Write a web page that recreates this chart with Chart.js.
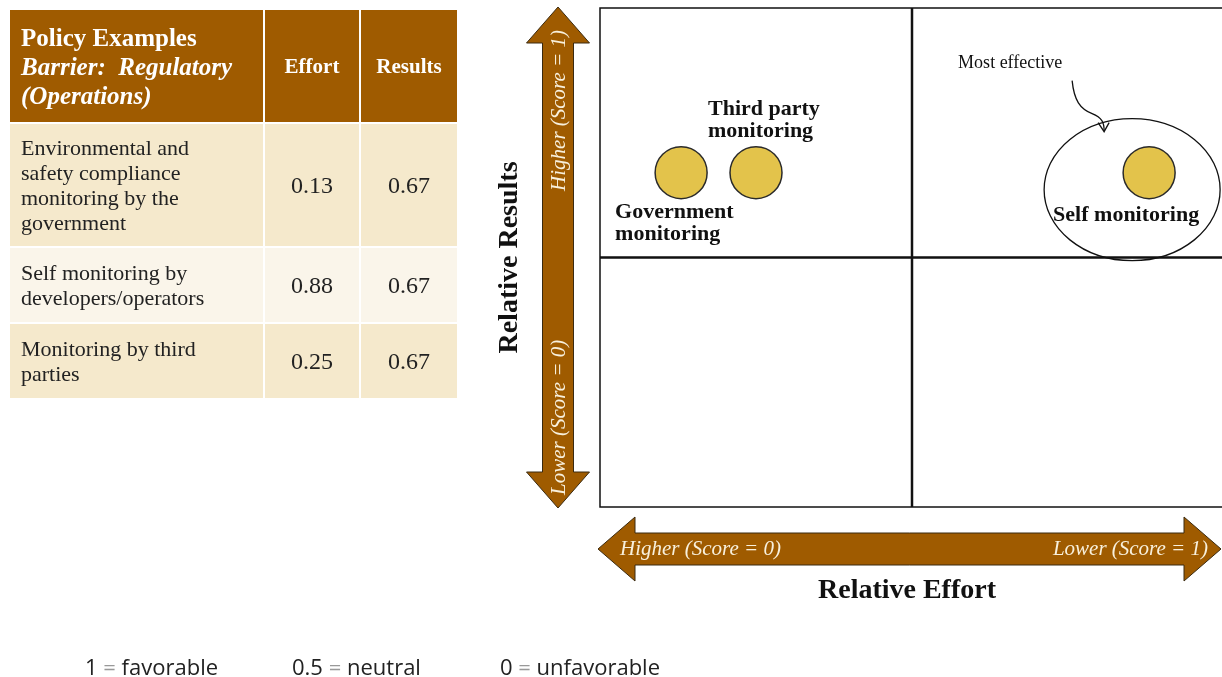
<!DOCTYPE html>
<html>
<head>
<meta charset="utf-8">
<title>Policy Examples - Regulatory (Operations)</title>
<script src="https://cdn.jsdelivr.net/npm/chart.js@4.4.1/dist/chart.umd.min.js"></script>
<style>
  html, body { margin: 0; padding: 0; background: #fff; overflow: hidden; }
  #wrap { position: absolute; left: 0; top: 0; width: 1232px; height: 677px; }
  #policy-table {
    position: absolute; left: 8px; top: 8px; width: 451px;
    border-collapse: collapse; font-family: 'Liberation Serif', serif; color: #222;
  }
  #policy-table td, #policy-table th { border: 2px solid #fff; padding: 0 10px; }
  #policy-table th { background: #9f5b00; color: #fff; font-weight: bold; font-size: 21px; }
  #policy-table th.title { text-align: left; font-size: 25px; line-height: 29px; height: 112px; padding-left: 11px; }
  #policy-table td { font-size: 22px; line-height: 25px; }
  #policy-table td.text { padding-left: 11px; padding-right: 34px; }
  #policy-table td.num { text-align: center; font-size: 24px; }
  #policy-table tr.odd td { background: #f5e9cc; }
  #policy-table tr.even td { background: #faf5ea; }
  #footer { position: absolute; top: 651px; left: 0; font-family: 'Open Sans', sans-serif; font-size: 22px; color: #222; }
  #footer span { position: absolute; white-space: nowrap; }
  #footer i { font-style: normal; color: #999; }
</style>
</head>
<body>
<div id="wrap"><canvas id="quadrant-chart"></canvas></div>
<table id="policy-table"></table>
<div id="footer"></div>

<script>
// policy scores (0 = unfavorable, 1 = favorable)
const policies = [
  'Environmental and safety compliance monitoring by the government',
  'Self monitoring by developers/operators',
  'Monitoring by third parties'
]
const effortScores = [0.13, 0.88, 0.25]
const resultScores = [0.67, 0.67, 0.67]
const pointLabels = [['Government', 'monitoring'], ['Self monitoring'], ['Third party', 'monitoring']]
const scoreKey = [['1', 'favorable'], ['0.5', 'neutral'], ['0', 'unfavorable']]

const brown = '#9f5b00'
const serif = "'Liberation Serif', serif"

// table on the left
const table = document.getElementById('policy-table')
let html = '<tr><th class="title">Policy Examples<br><i>Barrier:&nbsp; Regulatory<br>(Operations)</i></th>' +
  '<th style="width:74px">Effort</th><th style="width:76px">Results</th></tr>'
const rowHeights = [124, 76, 76]
for (let i = 0; i < policies.length; i++) {
  html += '<tr class="' + (i % 2 ? 'even' : 'odd') + '" style="height:' + rowHeights[i] + 'px">' +
    '<td class="text">' + policies[i] + '</td>' +
    '<td class="num">' + effortScores[i].toFixed(2) + '</td>' +
    '<td class="num">' + resultScores[i].toFixed(2) + '</td></tr>'
}
table.innerHTML = html

// score legend at the bottom
const footer = document.getElementById('footer')
const footerX = [85, 292, 500]
scoreKey.forEach((k, i) => {
  const s = document.createElement('span')
  s.style.left = footerX[i] + 'px'
  s.innerHTML = k[0] + ' <i>=</i> ' + k[1]
  footer.appendChild(s)
})

function doubleArrow(ctx, x1, y1, x2, y2, shaftW, headW, headL) {
  const L = Math.hypot(x2 - x1, y2 - y1)
  ctx.save()
  ctx.translate(x1, y1)
  ctx.rotate(Math.atan2(y2 - y1, x2 - x1))
  ctx.beginPath()
  ctx.moveTo(0, 0)
  ctx.lineTo(headL, -headW / 2)
  ctx.lineTo(headL, -shaftW / 2)
  ctx.lineTo(L - headL, -shaftW / 2)
  ctx.lineTo(L - headL, -headW / 2)
  ctx.lineTo(L, 0)
  ctx.lineTo(L - headL, headW / 2)
  ctx.lineTo(L - headL, shaftW / 2)
  ctx.lineTo(headL, shaftW / 2)
  ctx.lineTo(headL, headW / 2)
  ctx.closePath()
  ctx.fillStyle = brown
  ctx.fill()
  ctx.strokeStyle = '#3a2a10'
  ctx.lineWidth = 1
  ctx.stroke()
  ctx.restore()
}

// quadrant box and mid lines
const quadrants = {
  id: 'quadrants',
  beforeDatasetsDraw(chart) {
    const { ctx, chartArea: a, scales } = chart
    const mx = scales.x.getPixelForValue(0.5)
    const my = scales.y.getPixelForValue(0.5)
    ctx.save()
    ctx.strokeStyle = '#111'
    ctx.lineWidth = 1.5
    ctx.strokeRect(a.left, a.top, a.right - a.left, a.bottom - a.top)
    ctx.lineWidth = 2.5
    ctx.beginPath()
    ctx.moveTo(mx, a.top); ctx.lineTo(mx, a.bottom)
    ctx.moveTo(a.left, my); ctx.lineTo(a.right, my)
    ctx.stroke()
    ctx.restore()
  }
}

// axis arrows, titles and point annotations
const annotations = {
  id: 'annotations',
  afterDraw(chart) {
    const { ctx, chartArea: a } = chart
    const meta = chart.getDatasetMeta(0)
    ctx.save()

    // vertical arrow (results)
    const vx = a.left - 42
    doubleArrow(ctx, vx, a.top - 1, vx, a.bottom + 1, 31, 63, 36)
    ctx.fillStyle = '#f8f0dc'
    ctx.font = 'italic 21px ' + serif
    ctx.textBaseline = 'middle'
    ctx.save(); ctx.translate(vx + 1, a.top + 22); ctx.rotate(-Math.PI / 2)
    ctx.textAlign = 'right'; ctx.fillText('Higher (Score = 1)', 0, 0); ctx.restore()
    ctx.save(); ctx.translate(vx + 1, a.bottom - 12); ctx.rotate(-Math.PI / 2)
    ctx.textAlign = 'left'; ctx.fillText('Lower (Score = 0)', 0, 0); ctx.restore()

    // horizontal arrow (effort)
    const hy = a.bottom + 42
    doubleArrow(ctx, a.left - 2, hy, a.right - 3, hy, 32, 64, 37)
    ctx.textAlign = 'left'
    ctx.fillText('Higher (Score = 0)', a.left + 20, hy)
    ctx.textAlign = 'right'
    ctx.fillText('Lower (Score = 1)', a.right - 16, hy)

    // axis titles
    ctx.fillStyle = '#111'
    ctx.font = 'bold 28px ' + serif
    ctx.textAlign = 'center'
    ctx.fillText('Relative Effort', (a.left + 1224) / 2 - 5, a.bottom + 84)
    ctx.save(); ctx.translate(a.left - 90, (a.top + a.bottom) / 2); ctx.rotate(-Math.PI / 2)
    ctx.fillText('Relative Results', 0, 0); ctx.restore()

    // point labels
    const [gov, self, third] = meta.data
    ctx.font = 'bold 22px ' + serif
    ctx.textAlign = 'left'
    ctx.fillText(pointLabels[0][0], gov.x - 66, gov.y + 40)
    ctx.fillText(pointLabels[0][1], gov.x - 66, gov.y + 62)
    ctx.fillText(pointLabels[2][0], third.x - 48, third.y - 63)
    ctx.fillText(pointLabels[2][1], third.x - 48, third.y - 41)
    ctx.fillText(pointLabels[1][0], self.x - 96, self.y + 43)

    // highlight ring around self monitoring
    ctx.strokeStyle = '#111'
    ctx.lineWidth = 1.3
    ctx.beginPath()
    ctx.ellipse(self.x - 17, self.y + 17, 88, 71, 0, 0, Math.PI * 2)
    ctx.stroke()

    ctx.font = '18px ' + serif
    ctx.fillText('Most effective', self.x - 191, self.y - 109)
    const sx = self.x - 77, sy = self.y - 92
    ctx.beginPath()
    ctx.moveTo(sx, sy)
    ctx.bezierCurveTo(sx + 2, sy + 20, sx + 8, sy + 28, sx + 20, sy + 33)
    ctx.bezierCurveTo(sx + 30, sy + 37, sx + 32, sy + 42, sx + 32, sy + 50)
    ctx.stroke()
    ctx.beginPath()
    ctx.moveTo(sx + 26, sy + 42)
    ctx.lineTo(sx + 32, sy + 51)
    ctx.lineTo(sx + 37, sy + 42)
    ctx.stroke()
    ctx.restore()
  }
}

new Chart(document.getElementById('quadrant-chart'), {
  type: 'scatter',
  data: {
    datasets: [{
      label: 'Policy examples',
      data: effortScores.map((e, i) => ({ x: e, y: resultScores[i] })),
      pointRadius: 26,
      pointBackgroundColor: '#e3c34b',
      pointBorderColor: '#2a2a2a',
      pointBorderWidth: 1.5,
    }]
  },
  options: {
    responsive: true,
    maintainAspectRatio: false,
    animation: false,
    layout: { autoPadding: false, padding: { left: 600, top: 8, right: 8, bottom: 170 } },
    plugins: { legend: { display: false }, tooltip: { enabled: false } },
    scales: {
      x: { display: false, min: 0, max: 1 },
      y: { display: false, min: 0, max: 1 }
    }
  },
  plugins: [quadrants, annotations]
})
</script>
</body>
</html>
